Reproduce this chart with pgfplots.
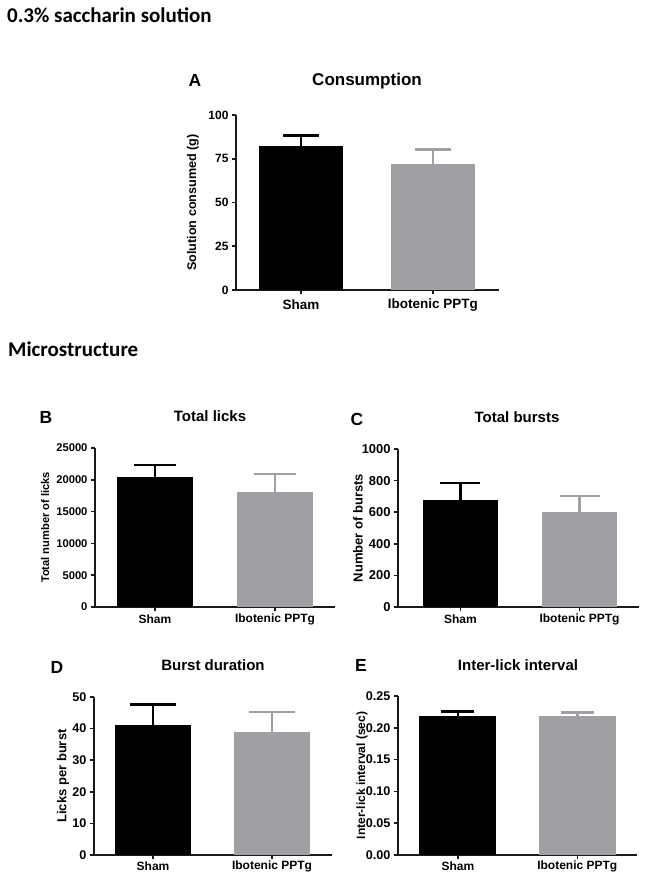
\documentclass[border=0pt]{standalone}
\usepackage{fontspec}
\setmainfont{Liberation Sans}
\newfontfamily\headfont{Carlito}
\usepackage{pgfplots}
\pgfplotsset{compat=1.18}
\definecolor{barg}{RGB}{160,160,164}
\definecolor{axc}{RGB}{25,25,25}
\newcommand{\fs}[1]{\fontsize{#1}{#1}\selectfont\bfseries}

\pgfplotsset{
  panel/.style={
    scale only axis,
    anchor=south west,
    axis x line*=bottom, axis y line*=left,
    axis line style={line width=1.8pt, color=axc, -},
    tick align=outside,
    major tick length=4pt,
    tick style={line width=1.6pt, color=axc},
    xtick={0,1}, xticklabels={Sham,Ibotenic PPTg},
    ymin=0, xmax=1.5,
    scaled y ticks=false,
    clip=false,
    ylabel style={anchor=center},
    xticklabel style={anchor=center},
  },
  shambar/.style={ybar, bar shift=0pt, fill=black, draw=none,
    error bars/.cd, y dir=plus, y explicit,
    error bar style={line width=2.6pt, black},
    error mark options={rotate=90, line width=2.6pt, black, mark size=#1}},
  ibobar/.style={ybar, bar shift=0pt, fill=barg, draw=none,
    error bars/.cd, y dir=plus, y explicit,
    error bar style={line width=2.6pt, barg},
    error mark options={rotate=90, line width=2.6pt, barg, mark size=#1}},
}

\begin{document}
\begin{tikzpicture}
\path[use as bounding box] (0,0) rectangle (651pt,-885pt);

% headings
\node[font=\headfont\fontsize{21}{21}\selectfont\bfseries, anchor=base west, inner sep=0pt] at (7pt,-23pt) {0.3\% saccharin solution};
\node[font=\headfont\fontsize{21}{21}\selectfont\bfseries, anchor=base west, inner sep=0pt] at (8pt,-356pt) {Microstructure};

% panel letters and titles
\node[font=\fs{17.5}, anchor=base, inner sep=0pt] at (195pt,-86.5pt) {A};
\node[font=\fs{17}, anchor=base, inner sep=0pt] at (367pt,-86pt) {Consumption};
\node[font=\fs{17.5}, anchor=base, inner sep=0pt] at (46pt,-423pt) {B};
\node[font=\fs{15}, anchor=base, inner sep=0pt] at (210pt,-421pt) {Total licks};
\node[font=\fs{17.5}, anchor=base, inner sep=0pt] at (357pt,-425pt) {C};
\node[font=\fs{15}, anchor=base, inner sep=0pt] at (517pt,-422.7pt) {Total bursts};
\node[font=\fs{17.5}, anchor=base, inner sep=0pt] at (57pt,-673pt) {D};
\node[font=\fs{15}, anchor=base, inner sep=0pt] at (213pt,-670pt) {Burst duration};
\node[font=\fs{17.5}, anchor=base, inner sep=0pt] at (361pt,-671.7pt) {E};
\node[font=\fs{15}, anchor=base, inner sep=0pt] at (518pt,-670pt) {Inter-lick interval};

% A: Consumption
\begin{axis}[panel, at={(236pt,-290pt)}, width=263pt, height=175pt,
  xmin=-0.492, ymax=100, bar width=84pt,
  ytick={0,25,50,75,100}, yticklabels={0,25,50,75,100},
  yticklabel style={font=\fs{12}},
  xticklabel style={font=\fs{13.5}, yshift=-11pt},
  ylabel={Solution consumed (g)}, ylabel style={font=\fs{12.6}, at={(axis description cs:-0.1635,0.5)}}]
\addplot[shambar=18pt] coordinates {(0,82.3) +- (0,5.9)};
\addplot[ibobar=18pt] coordinates {(1,72.1) +- (0,8.3)};
\end{axis}

% B: Total licks
\begin{axis}[panel, at={(95pt,-607pt)}, width=240pt, height=159pt,
  xmin=-0.5, ymax=25000, bar width=76pt,
  ytick={0,5000,10000,15000,20000,25000}, yticklabels={0,5000,10000,15000,20000,25000},
  yticklabel style={font=\fs{11.2}},
  xticklabel style={font=\fs{12}, yshift=-8pt},
  ylabel={Total number of licks}, ylabel style={font=\fs{11.1}, at={(axis description cs:-0.208,0.5)}}]
\addplot[shambar=21pt] coordinates {(0,20440) +- (0,1890)};
\addplot[ibobar=21pt] coordinates {(1,18080) +- (0,2830)};
\end{axis}

% C: Total bursts
\begin{axis}[panel, at={(398pt,-607pt)}, width=241pt, height=158pt,
  xmin=-0.525, ymax=1000, bar width=75pt,
  ytick={0,200,400,600,800,1000}, yticklabels={0,200,400,600,800,1000},
  yticklabel style={font=\fs{12.9}},
  xticklabel style={font=\fs{12}, yshift=-8pt},
  ylabel={Number of bursts}, ylabel style={font=\fs{13}, at={(axis description cs:-0.166,0.5)}}]
\addplot[shambar=20pt] coordinates {(0,677) +- (0,108)};
\addplot[ibobar=20pt] coordinates {(1,601) +- (0,102)};
\end{axis}

% D: Burst duration
\begin{axis}[panel, at={(94pt,-855pt)}, width=237.5pt, height=158pt,
  xmin=-0.496, ymax=50, bar width=76pt,
  ytick={0,10,20,30,40,50}, yticklabels={0,10,20,30,40,50},
  yticklabel style={font=\fs{12.6}},
  xticklabel style={font=\fs{12}, yshift=-7pt},
  ylabel={Licks per burst}, ylabel style={font=\fs{13}, at={(axis description cs:-0.1305,0.5)}}]
\addplot[shambar=23pt] coordinates {(0,41.1) +- (0,6.6)};
\addplot[ibobar=23pt] coordinates {(1,39.0) +- (0,6.3)};
\end{axis}

% E: Inter-lick interval
\begin{axis}[panel, at={(398pt,-855pt)}, width=239pt, height=159pt,
  xmin=-0.502, ymax=0.25, bar width=77pt,
  ytick={0,0.05,0.10,0.15,0.20,0.25}, yticklabels={0.00,0.05,0.10,0.15,0.20,0.25},
  yticklabel style={font=\fs{12.6}},
  xticklabel style={font=\fs{12}, yshift=-7pt},
  ylabel={Inter-lick interval (sec)}, ylabel style={font=\fs{12}, at={(axis description cs:-0.151,0.5)}}]
\addplot[shambar=16.5pt] coordinates {(0,0.2186) +- (0,0.0074)};
\addplot[ibobar=16.5pt] coordinates {(1,0.2192) +- (0,0.0048)};
\end{axis}
\end{tikzpicture}
\end{document}
